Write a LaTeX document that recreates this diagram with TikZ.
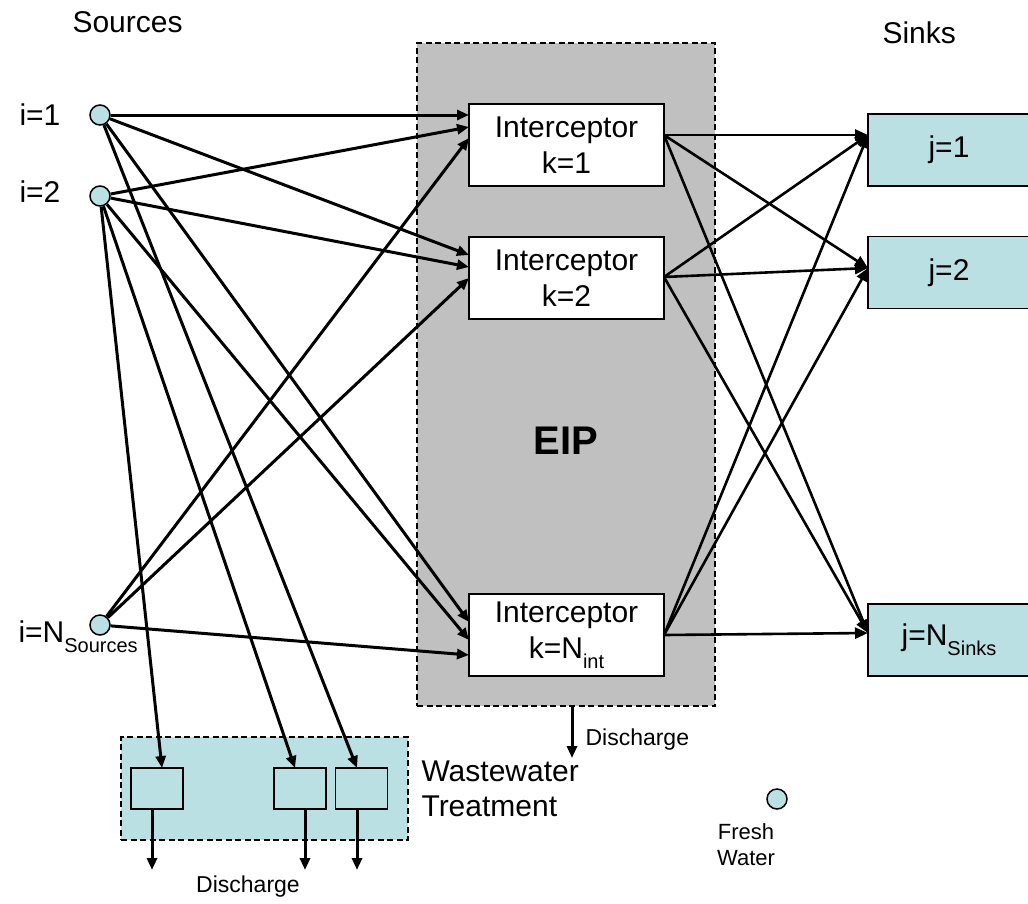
\documentclass[tikz,border=0pt]{standalone}
\usepackage{fontspec}
\setmainfont{Liberation Sans}
\usetikzlibrary{arrows.meta,calc}

\definecolor{waterfill}{RGB}{187,224,227}
\definecolor{eipgray}{RGB}{192,192,192}

% subscript in the node labels
\newcommand\lowtext[1]{\raisebox{-10pt}{\fontsize{20}{20}\selectfont #1}}

\begin{document}
\begin{tikzpicture}[x=1pt,y=-1pt,
  every node/.style={font=\fontsize{30}{36}\selectfont},
  source/.style={circle,draw,fill=waterfill,line width=1.5pt,minimum size=20pt,inner sep=0pt},
  intbox/.style={rectangle,draw,fill=white,line width=1.6pt,minimum width=195pt,minimum height=82pt,align=center,inner sep=0pt},
  sinkbox/.style={rectangle,draw,fill=waterfill,line width=1.6pt,minimum width=162pt,minimum height=72pt,inner sep=0pt},
  wwbox/.style={rectangle,draw,fill=waterfill,line width=1.6pt,minimum width=52pt,minimum height=41pt,inner sep=0pt},
  dashbox/.style={rectangle,draw,line width=2.6pt,dash pattern=on 6pt off 3.5pt,inner sep=0pt},
  flow/.style={line width=3pt,-{Triangle[length=12pt,width=10pt]}},
  outflow/.style={line width=2.6pt,-{Triangle[length=13pt,width=11pt]}},
  small/.style={font=\fontsize{23}{27}\selectfont}
]
\useasboundingbox (0,0) rectangle (1028,903);

% containers
\node[dashbox,fill=eipgray,minimum width=298pt,minimum height=663pt] (eip) at (566,374.5) {};
\node[dashbox,fill=waterfill,minimum width=287pt,minimum height=103pt] (ww) at (264.5,788.5) {};

% titles
\node[anchor=west] (srctitle) at (69,22) {Sources};
\node[anchor=west] (snktitle) at (879,33) {Sinks};
\node[font=\fontsize{40}{44}\selectfont\bfseries] (eiplabel) at (566,441) {EIP};

% sources
\node[source] (i1) at (100,115) {};
\node[source] (i2) at (100,196) {};
\node[source] (iN) at (100,625) {};
\node[anchor=base west] (li1) at (16,125) {i=1};
\node[anchor=base west] (li2) at (16,202) {i=2};
\node[anchor=base west] (liN) at (15,642) {i=N\lowtext{Sources}};

% interceptors
\node[intbox] (k1) at (566.5,145) {Interceptor\\k=1};
\node[intbox] (k2) at (566.5,278) {Interceptor\\k=2};
\node[intbox] (kN) at (566.5,635) {Interceptor\\k=N\lowtext{int}};

% sinks
\node[sinkbox] (j1) at (949,150) {j=1};
\node[sinkbox] (j2) at (949,272.5) {j=2};
\node[sinkbox] (jN) at (949,640) {j=N\lowtext{Sinks}};

% wastewater treatment units
\node[wwbox] (wa) at (157,788.5) {};
\node[wwbox] (wb) at (300,788.5) {};
\node[wwbox] (wc) at (361.5,788.5) {};
\node[anchor=west,align=left,font=\fontsize{30}{35}\selectfont] (wwlabel) at (418,788.5) {Wastewater\\Treatment};

% fresh water legend
\node[source] (fw) at (777,799) {};
\node[align=center,font=\fontsize{22}{26}\selectfont] (fwlabel) at (746,844.5) {Fresh\\Water};

% inlet points on the interceptors
\coordinate (k1a) at (469,115);
\coordinate (k1b) at (469,127);
\coordinate (k1c) at (469,138);
\coordinate (k2a) at (469,255);
\coordinate (k2b) at (469,267);
\coordinate (k2c) at (469,278);
\coordinate (kNa) at (469,622);
\coordinate (kNb) at (469,640);
\coordinate (kNc) at (469,655);
% inlet points on the treatment units
\coordinate (wain) at (162,768);
\coordinate (wbin) at (295,768);
\coordinate (wcin) at (357,768);
% outlet points of the interceptors
\coordinate (k1o) at (664,135);
\coordinate (k2o) at (664,277);
\coordinate (kNo) at (664,635);
% inlet points on the sinks
\coordinate (j1in) at (868,135);
\coordinate (j2in) at (868,268);
\coordinate (jNin) at (868,633);

% source -> interceptor / treatment
\draw[flow] (i1) -- (k1a);
\draw[flow] (i1) -- (k2a);
\draw[flow] (i1) -- (kNa);
\draw[flow] (i1) -- (wcin);
\draw[flow] (i2) -- (k1b);
\draw[flow] (i2) -- (k2b);
\draw[flow] (i2) -- (kNb);
\draw[flow] (i2) -- (wain);
\draw[flow] (i2) -- (wbin);
\draw[flow] (iN) -- (k1c);
\draw[flow] (iN) -- (k2c);
\draw[flow] (iN) -- (kNc);

% interceptor -> sink
\foreach \k in {k1o,k2o,kNo}
  \foreach \j in {j1in,j2in,jNin}
    \draw[outflow] (\k) -- (\j);

% discharges
\coordinate (eipout) at (572,758);
\draw[flow] (eip.south -| eipout) -- (eipout);
\node[small,anchor=west] (eipdis) at (582,740) {Discharge};

\coordinate (waout) at (152,870);
\coordinate (wbout) at (305,870);
\coordinate (wcout) at (357,870);
\draw[flow] (wa.south -| waout) -- (waout);
\draw[flow] (wb.south -| wbout) -- (wbout);
\draw[flow] (wc.south -| wcout) -- (wcout);
\node[small] (wwdis) at (248,887) {Discharge};
\end{tikzpicture}
\end{document}
